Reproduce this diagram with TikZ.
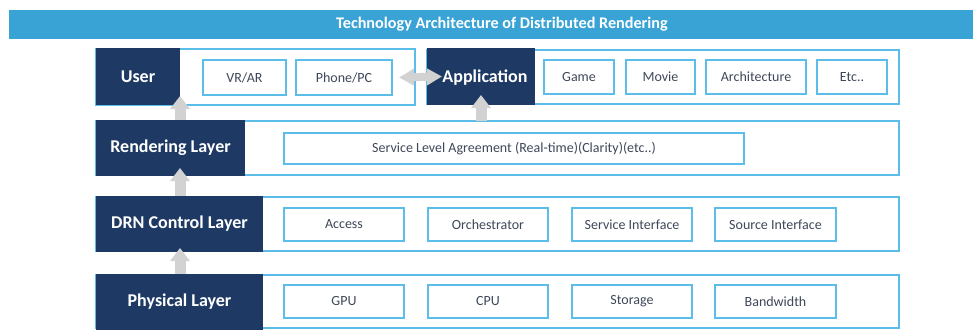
\documentclass[tikz,border=0pt]{standalone}
\usepackage{fontspec}
\setmainfont{Carlito}
\usetikzlibrary{arrows.meta,calc}
\definecolor{navy}{HTML}{1E3A64}
\definecolor{lblue}{HTML}{5CBDE9}
\definecolor{barblue}{HTML}{3AA3D6}
\definecolor{txt}{HTML}{3F4859}
\definecolor{agray}{HTML}{D2D2D2}
\begin{document}
\begin{tikzpicture}[x=1pt,y=-1pt,
  sz/.style 2 args={minimum width=#1,minimum height=#2,inner sep=0pt,outer sep=0pt},
  bar/.style={fill=barblue,draw=none},
  titletext/.style={text=white,font=\fontsize{16.2}{18}\selectfont\bfseries,inner sep=0pt},
  rowbox/.style={draw=lblue,line width=2pt,fill=white},
  dark/.style={fill=navy,draw=none,text=white,font=\fontsize{18}{20}\selectfont\bfseries},
  inbox/.style={draw=lblue,line width=2pt,fill=white,text=txt,font=\fontsize{14}{16}\selectfont},
  uparrow/.style={color=agray,line width=11pt,-{Triangle[width=19pt,length=13pt]}},
  dblarrow/.style={color=agray,line width=8pt,{Triangle[width=16pt,length=15pt]}-{Triangle[width=16pt,length=15pt]}}
]
\useasboundingbox (0,0) rectangle (973,330);
% title
\node[bar,sz={964}{29}] (bar) at (491,24.5) {};
\node[titletext] (title) at (502,24.5) {Technology Architecture of Distributed Rendering};
% user row
\node[rowbox,sz={319}{56}] (userrow) at (255.5,77) {};
\node[dark,sz={84}{57}] (user) at (138,76.5) {User};
\node[inbox,sz={83}{35}] (vr) at (244.5,77.5) {VR/AR};
\node[inbox,sz={96}{35}] (phone) at (344,77.5) {Phone/PC};
% application row
\node[rowbox,sz={472}{54}] (approw) at (663,77) {};
\node[dark,sz={108}{57},text depth=0pt] (app) at (481,76.5) {\hspace*{8pt}Application};
\node[inbox,sz={70}{34}] (game) at (579,77) {Game};
\node[inbox,sz={69}{34}] (movie) at (660.5,77) {Movie};
\node[inbox,sz={100}{34}] (arch) at (756,77) {Architecture};
\node[inbox,sz={70}{34}] (etc) at (852,77) {Etc..};
% rendering layer
\node[rowbox,sz={803}{54}] (rendrow) at (497.5,148) {};
\node[dark,sz={149}{56}] (rend) at (170.5,148) {Rendering Layer};
\node[inbox,sz={460}{31}] (sla) at (514,148.5) {Service Level Agreement (Real-time)(Clarity)(etc..)};
% DRN control layer
\node[rowbox,sz={803}{54}] (drnrow) at (497.5,224) {};
\node[dark,sz={167}{56}] (drn) at (179.5,224) {DRN Control Layer};
\node[inbox,sz={120}{33}] (access) at (344,224.5) {Access};
\node[inbox,sz={120}{33}] (orch) at (488,224.5) {Orchestrator};
\node[inbox,sz={120}{33}] (servif) at (632,224.5) {Service Interface};
\node[inbox,sz={121}{33}] (srcif) at (775.5,224.5) {Source Interface};
% physical layer
\node[rowbox,sz={803}{53}] (physrow) at (497.5,301.5) {};
\node[dark,sz={167}{56}] (phys) at (179.5,302) {Physical Layer};
\node[inbox,sz={120}{33}] (gpu) at (344,301.5) {GPU};
\node[inbox,sz={120}{33}] (cpu) at (488,301.5) {CPU};
\node[inbox,sz={120}{33}] (stor) at (632,301.5) {Storage};
\node[inbox,sz={121}{33}] (bw) at (775.5,301.5) {Bandwidth};
% arrows
\draw[uparrow] (rend.north -| user.east) -- ($(user.south east)+(0,-9)$);
\draw[uparrow] (rendrow.north -| app.south) -- ($(app.south)+(0,-10)$);
\draw[uparrow] (drn.north -| user.east) -- ($(rend.south -| user.east)+(0,-8)$);
\draw[uparrow] (phys.north -| user.east) -- ($(drn.south -| user.east)+(0,-4)$);
\draw[dblarrow] ($(phone.east)+(7,0)$) -- ($(app.west)+(15,0)$);
\end{tikzpicture}
\end{document}
